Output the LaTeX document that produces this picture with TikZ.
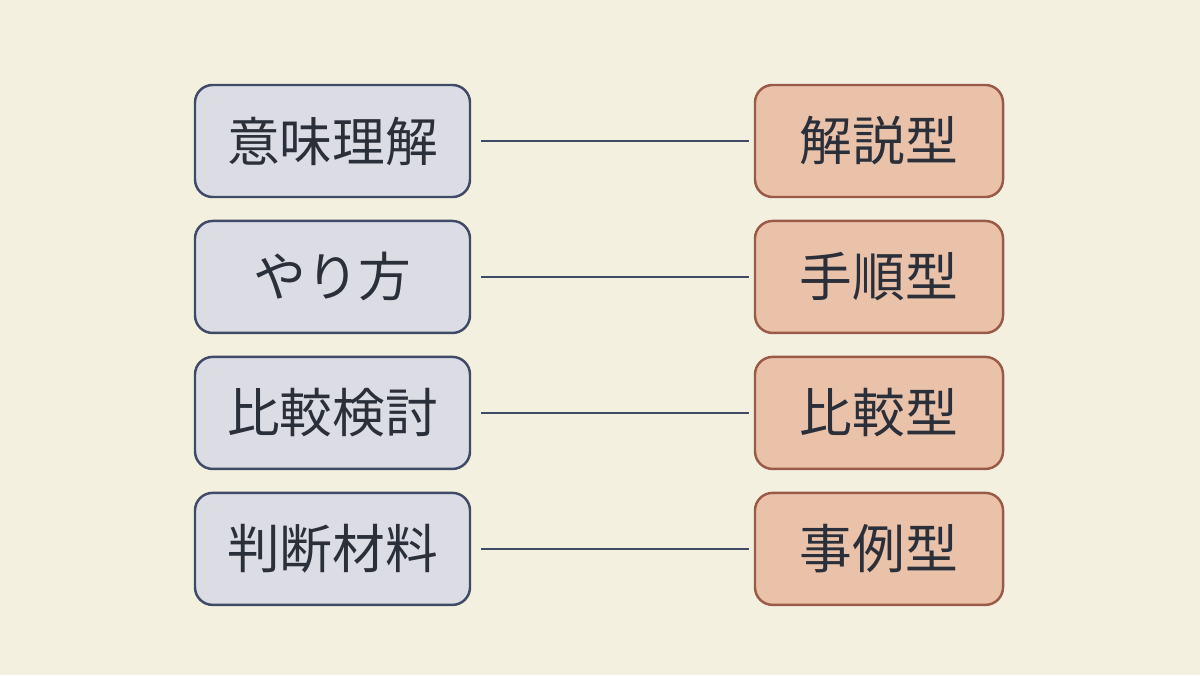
\documentclass[tikz,border=0pt]{standalone}
\usepackage{fontspec}
\setmainfont{Noto Sans CJK JP}
\usetikzlibrary{positioning}
\definecolor{paper}{HTML}{F4F0DF}
\definecolor{lfill}{HTML}{DCDDE4}
\definecolor{ldraw}{HTML}{3E4A66}
\definecolor{rfill}{HTML}{E9C2A9}
\definecolor{rdraw}{HTML}{9A5A48}
\definecolor{ink}{HTML}{2A2F3A}
\tikzset{
  term/.style={rounded corners=10pt,line width=1.4pt,draw=ldraw,fill=lfill,
    minimum width=5.5cm,minimum height=2.24cm,text=ink,font=\fontsize{30}{34}\selectfont},
  kind/.style={term,draw=rdraw,fill=rfill,minimum width=4.96cm},
  link/.style={line width=1.3pt,draw=ldraw,shorten <=0.2cm,shorten >=0.1cm}
}
\begin{document}
\begin{tikzpicture}
\fill[paper] (0,0) rectangle (24,13.5);
% left column
\node[term] (imi) at (6.65,10.68) {意味理解};
\node[term,below=0.43cm of imi] (yari) {やり方};
\node[term,below=0.43cm of yari] (hika) {比較検討};
\node[term,below=0.43cm of hika] (hand) {判断材料};
% right column
\node[kind] (kai) at (17.58,10.68) {解説型};
\node[kind,below=0.43cm of kai] (tej) {手順型};
\node[kind,below=0.43cm of tej] (hik) {比較型};
\node[kind,below=0.43cm of hik] (jir) {事例型};
\draw[link] (imi) -- (kai);
\draw[link] (yari) -- (tej);
\draw[link] (hika) -- (hik);
\draw[link] (hand) -- (jir);
\end{tikzpicture}
\end{document}
